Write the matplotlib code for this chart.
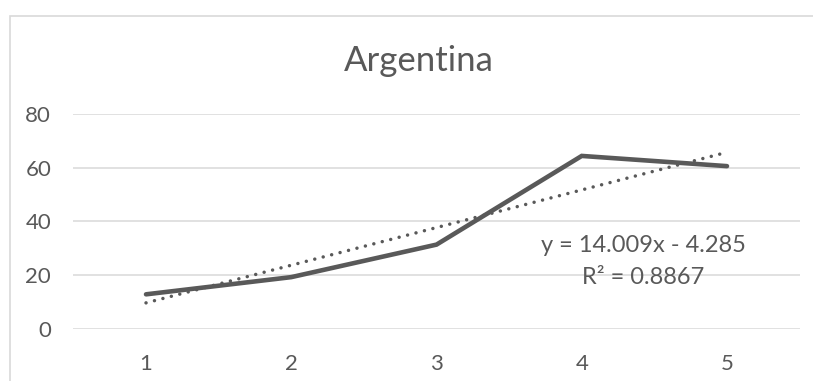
import matplotlib
matplotlib.use("Agg")
import matplotlib.pyplot as plt
from matplotlib.patches import Rectangle
import numpy as np

plt.rcParams['font.family'] = ['Lato', 'DejaVu Sans']

# data
years = [1, 2, 3, 4, 5]
values = [12.9, 19.3, 31.4, 64.4, 60.6]
slope, intercept = 14.009, -4.285
r2 = 0.8867

W, H = 813, 381
gray = '#595959'
grid = '#d9d9d9'

fig = plt.figure(figsize=(W / 100, H / 100), dpi=100)
ax = fig.add_axes([73.4 / W, (H - 329) / H, (799.6 - 73.4) / W, (329 - 114) / H])

# chart area frame
fig.add_artist(Rectangle((9.5 / W, -0.1), 1.2, (H - 15.5) / H + 0.1, transform=fig.transFigure,
                         fill=False, edgecolor=grid, lw=1.2))

ax.plot(years, values, color=gray, lw=3.3, solid_capstyle='round', solid_joinstyle='miter', zorder=3)
xt = np.array([years[0], years[-1]])
ax.plot(xt, slope * xt + intercept, color=gray, lw=2.5, linestyle=(0, (0.01, 2.5)),
        dash_capstyle='round', zorder=4)

ax.set_xlim(0.5, 5.5)
ax.set_ylim(0, 80)
ax.set_yticks(range(0, 81, 20))
ax.set_xticks(years)
ax.grid(axis='y', color=grid, lw=1.1)
ax.set_axisbelow(True)
for s in ax.spines.values():
    s.set_visible(False)
ax.tick_params(length=0, labelsize=16, labelcolor=gray)
ax.tick_params(axis='y', pad=16)
ax.tick_params(axis='x', pad=18)

fig.text(419 / W, 1 - 61 / H, 'Argentina', ha='center', va='center', fontsize=25, color=gray)

fig.text(643 / W, 1 - 245 / H, f'y = {slope}x - {abs(intercept)}', ha='center', va='center',
         fontsize=17, color=gray)
fig.text(643 / W, 1 - 278 / H, f'R² = {r2}', ha='center', va='center', fontsize=17, color=gray)

fig.savefig('out.png', dpi=100)
